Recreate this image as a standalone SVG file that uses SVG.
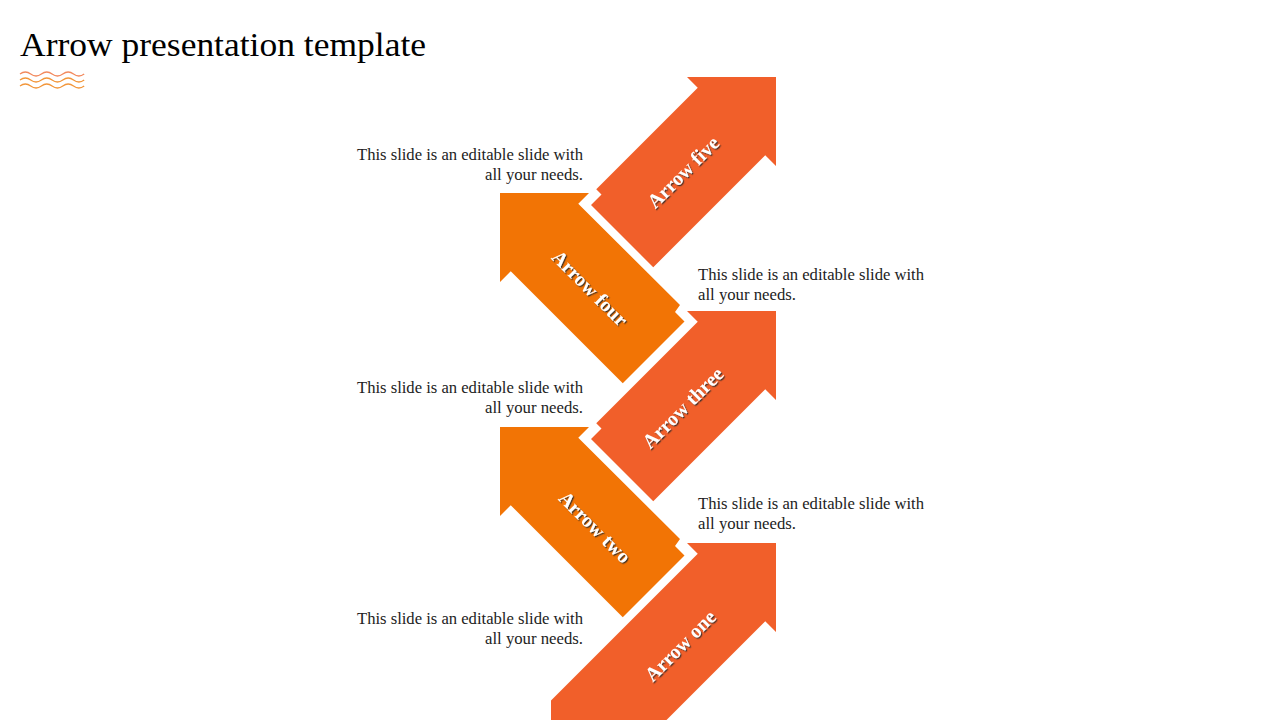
<svg xmlns="http://www.w3.org/2000/svg" width="1280" height="720" viewBox="0 0 1280 720">
<defs>
<style>
.red{fill:#F15F2A}
.org{fill:#F27405}
.lbl{font-family:"Liberation Serif","DejaVu Serif",serif;font-size:20px;font-weight:bold;fill:#FFFFFF;text-anchor:middle}
.body{font-family:"Liberation Serif","DejaVu Serif",serif;font-size:16px;fill:#222222}
.end{text-anchor:end}
.title{font-family:"Liberation Serif","DejaVu Serif",serif;font-size:33px;fill:#000000}
.wave{fill:none;stroke-width:1.3}
</style>
<filter id="sh" x="-20%" y="-20%" width="140%" height="140%">
<feDropShadow dx="1.2" dy="1.2" stdDeviation="0.6" flood-color="#2a2a2a" flood-opacity="0.85"/>
</filter>
</defs>
<rect width="1280" height="720" fill="#FFFFFF"/>
<g id="title">
<text class="title" x="20" y="56" textLength="406" lengthAdjust="spacingAndGlyphs">Arrow presentation template</text>
<path class="wave" stroke="#F28A5E" d="M20,74 c3.5,-2.6 7.2,-2.6 10.7,0 s7.2,2.6 10.7,0 s7.2,-2.6 10.7,0 s7.2,2.6 10.7,0 s7.2,-2.6 10.7,0 s7.2,2.6 10.7,0"/>
<path class="wave" stroke="#F2963A" d="M20,80 c3.5,-2.6 7.2,-2.6 10.7,0 s7.2,2.6 10.7,0 s7.2,-2.6 10.7,0 s7.2,2.6 10.7,0 s7.2,-2.6 10.7,0 s7.2,2.6 10.7,0"/>
<path class="wave" stroke="#F2963A" d="M20,86 c3.5,-2.6 7.2,-2.6 10.7,0 s7.2,2.6 10.7,0 s7.2,-2.6 10.7,0 s7.2,2.6 10.7,0 s7.2,-2.6 10.7,0 s7.2,2.6 10.7,0"/>
</g>
<g id="connectors"></g>
<g id="arrow-four">
<polygon class="org" points="500,193 589,193 578.25,203.75 680,305 675,312 684.5,321.5 622.75,383.25 510.75,271.25 500,282"/>
<g filter="url(#sh)"><text class="lbl" transform="translate(590,288) rotate(45)" y="7">Arrow four</text></g>
</g>
<g id="arrow-two">
<polygon class="org" points="500,427 589,427 578.25,437.75 680,539 675,546 684.5,555.5 622.75,617.25 510.75,505.25 500,516"/>
<g filter="url(#sh)"><text class="lbl" transform="translate(595,527) rotate(45)" y="7">Arrow two</text></g>
</g>
<g id="arrow-five">
<polygon class="red" points="776,77 776,166 765.25,155.25 653.25,267.25 591,205 601.5,194.5 596.25,189.25 697.75,87.75 687,77"/>
<g filter="url(#sh)"><text class="lbl" transform="translate(683,172) rotate(-45)" y="7">Arrow five</text></g>
</g>
<g id="arrow-three">
<polygon class="red" points="776,311 776,400 765.25,389.25 653.25,501.25 591,439 601.5,428.5 596.25,423.25 697.75,321.75 687,311"/>
<g filter="url(#sh)"><text class="lbl" transform="translate(682.5,407.5) rotate(-45)" y="7">Arrow three</text></g>
</g>
<g id="arrow-one">
<polygon class="red" points="776,543 776,632 765.25,621.25 664.5,722 551,722 551,700.5 697.75,553.75 687,543"/>
<g filter="url(#sh)"><text class="lbl" transform="translate(680,645.5) rotate(-45)" y="7">Arrow one</text></g>
</g>
<g id="text-five">
<text class="body end" x="583" y="160" textLength="226" lengthAdjust="spacingAndGlyphs">This slide is an editable slide with</text>
<text class="body end" x="583" y="180" textLength="98" lengthAdjust="spacingAndGlyphs">all your needs.</text>
</g>
<g id="text-four">
<text class="body" x="698" y="280" textLength="226" lengthAdjust="spacingAndGlyphs">This slide is an editable slide with</text>
<text class="body" x="698" y="300" textLength="98" lengthAdjust="spacingAndGlyphs">all your needs.</text>
</g>
<g id="text-three">
<text class="body end" x="583" y="393" textLength="226" lengthAdjust="spacingAndGlyphs">This slide is an editable slide with</text>
<text class="body end" x="583" y="413" textLength="98" lengthAdjust="spacingAndGlyphs">all your needs.</text>
</g>
<g id="text-two">
<text class="body" x="698" y="509" textLength="226" lengthAdjust="spacingAndGlyphs">This slide is an editable slide with</text>
<text class="body" x="698" y="529" textLength="98" lengthAdjust="spacingAndGlyphs">all your needs.</text>
</g>
<g id="text-one">
<text class="body end" x="583" y="624" textLength="226" lengthAdjust="spacingAndGlyphs">This slide is an editable slide with</text>
<text class="body end" x="583" y="644" textLength="98" lengthAdjust="spacingAndGlyphs">all your needs.</text>
</g>
</svg>
